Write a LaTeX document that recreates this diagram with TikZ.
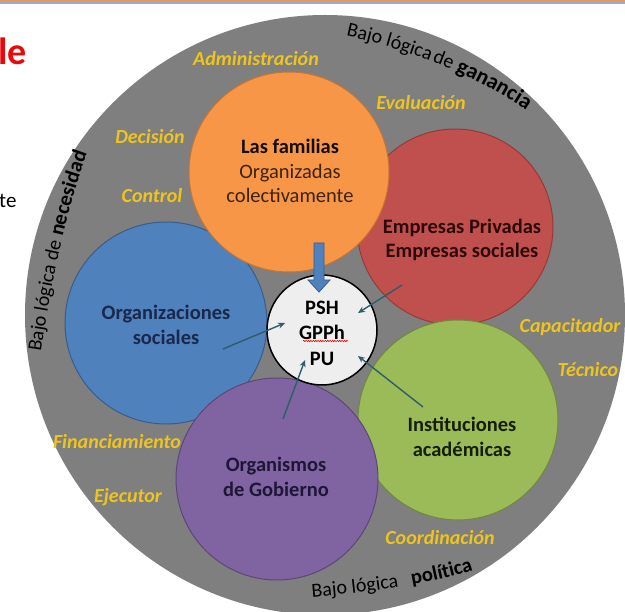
\documentclass[tikz,border=0pt]{standalone}
\usepackage{fontspec}
\setmainfont{Carlito}
\usetikzlibrary{calc,decorations.text,decorations.pathmorphing,arrows.meta}
\definecolor{ringgrey}{RGB}{127,127,127}
\definecolor{orA}{RGB}{247,150,70}
\definecolor{orB}{RGB}{196,118,52}
\definecolor{rdA}{RGB}{192,80,77}
\definecolor{rdB}{RGB}{150,58,56}
\definecolor{blA}{RGB}{79,129,189}
\definecolor{blB}{RGB}{56,93,138}
\definecolor{puA}{RGB}{128,100,162}
\definecolor{puB}{RGB}{92,71,118}
\definecolor{grA}{RGB}{155,187,89}
\definecolor{grB}{RGB}{113,137,63}
\definecolor{yel}{RGB}{238,196,30}
\definecolor{arrteal}{RGB}{46,94,106}
\definecolor{centfill}{RGB}{238,238,238}
\definecolor{redtitle}{RGB}{230,10,10}
\definecolor{topor}{RGB}{240,150,80}
\definecolor{topbl}{RGB}{140,175,220}
\definecolor{txfam}{RGB}{20,14,10}
\definecolor{txfamb}{RGB}{60,35,18}
\definecolor{txemp}{RGB}{45,10,10}
\definecolor{txorg}{RGB}{25,40,75}
\definecolor{txgob}{RGB}{30,22,55}
\definecolor{txins}{RGB}{22,30,10}
\begin{document}
\begin{tikzpicture}[x=1pt,y=-1pt,
  disc/.style={circle,inner sep=0pt,minimum size=200pt,line width=1pt},
  ctext/.style={align=center,inner sep=0pt,font=\fontsize{20.5}{24.5}\selectfont\bfseries},
  ylab/.style={inner sep=0pt,text=yel,font=\fontsize{20}{22}\selectfont\bfseries\itshape},
  thinarrow/.style={draw=arrteal,line width=1.4pt,-{Stealth[length=7pt,width=6pt]}},
  curvetext/.style 2 args={decorate,decoration={text along path,text align={align=left,left indent=#1},text={#2}}}
]
\useasboundingbox (0,0) rectangle (625,612);
\clip (0,0) rectangle (625,612);
\fill[white] (0,0) rectangle (625,612);
% top rules
\fill[topor] (0,0) rectangle (625,2.4);
\fill[topbl] (0,2.4) rectangle (625,4);
% clipped slide texts
\node[anchor=base west,inner sep=0pt,text=redtitle,font=\fontsize{38}{40}\selectfont\bfseries] (le) at (-2,65) {le};
\node[anchor=base west,inner sep=0pt,font=\fontsize{21}{24}\selectfont] (te) at (-1,208) {te};
% grey ring
\node[circle,inner sep=0pt,minimum size=600pt,fill=ringgrey] (ring) at (325,315) {};
% coloured discs
\node[disc,fill=rdA,draw=rdB,minimum size=196pt] (emp) at (455,227) {};
\node[disc,fill=grA,draw=grB] (ins) at (458,420) {};
\node[disc,fill=blA,draw=blB,minimum size=202pt] (org) at (166,323) {};
\node[disc,fill=puA,draw=puB,minimum size=202pt] (gob) at (277,479) {};
\node[disc,fill=orA,draw=orB] (fam) at (289,172) {};
% centre
\node[circle,inner sep=0pt,minimum size=110pt,fill=centfill,draw=black,line width=1.5pt] (cen) at (322,330) {};
% disc texts
\node[ctext] (famtx) at (290,171) {\textcolor{txfam}{Las familias}\\{\mdseries\color{txfamb}Organizadas}\\{\mdseries\color{txfamb}colectivamente}};
\node[ctext,text=txemp] (emptx) at (462,240) {Empresas Privadas\\Empresas sociales};
\node[ctext,text=txorg] (orgtx) at (166,325) {Organizaciones\\sociales};
\node[ctext,text=txgob] (gobtx) at (276,477) {Organismos\\de Gobierno};
\node[ctext,text=txins] (instx) at (462,437) {Instituciones\\académicas};
\node[ctext,text=black,font=\fontsize{20.5}{25.5}\selectfont\bfseries] (centx) at (322,333) {PSH\\GPPh\\PU};
\draw[red!85!black,line width=0.6pt,decorate,decoration={snake,amplitude=0.6pt,segment length=2.4pt}] (303,341) -- (348,341);
% yellow role labels
\node[ylab] (l1) at (256,59) {Administración};
\node[ylab] (l2) at (421,103) {Evaluación};
\node[ylab] (l3) at (150,137) {Decisión};
\node[ylab] (l4) at (152,196) {Control};
\node[ylab] (l5) at (570,327) {Capacitador};
\node[ylab] (l6) at (588,370) {Técnico};
\node[ylab] (l7) at (117,442) {Financiamiento};
\node[ylab] (l8) at (128,497) {Ejecutor};
\node[ylab] (l9) at (440,538) {Coordinación};
% curved texts: top
\path[curvetext={0pt}{|\fontsize{20}{22}\selectfont|Bajo lógica}]
  (346,36) .. controls (420,52) and (485,80) .. (538,118) -- (580,150);
\path[curvetext={90pt}{|\fontsize{20}{22}\selectfont|de}]
  (346,36) .. controls (420,52) and (485,80) .. (538,118) -- (580,150);
\path[curvetext={115pt}{|\fontsize{22}{24}\selectfont\bfseries|ganancia}]
  (346,36) .. controls (420,52) and (485,80) .. (538,118) -- (580,150);
% left
\path[curvetext={0pt}{|\fontsize{20}{22}\selectfont|Bajo lógica de |\fontsize{21}{23}\selectfont\bfseries|necesidad}]
  (41,352) .. controls (50,290) and (65,210) .. (92,140) -- (110,100);
% bottom
\path[curvetext={0pt}{|\fontsize{20}{22}\selectfont|Bajo lógica}]
  (312,597) .. controls (370,592) and (430,585) .. (480,568) -- (510,556);
\path[curvetext={101pt}{|\fontsize{20.5}{22}\selectfont\bfseries|política}]
  (312,597) .. controls (370,592) and (430,585) .. (480,568) -- (510,556);
% big blue arrow from families to centre
\coordinate (orTip) at (319,292);
\draw[fill=blA,draw=blB,line width=0.8pt] ($(orTip)+(-5,-49)$) -- ($(orTip)+(5,-49)$) -- ($(orTip)+(5,-12)$) -- ($(orTip)+(11,-12)$) -- (orTip) -- ($(orTip)+(-11,-12)$) -- ($(orTip)+(-5,-12)$) -- cycle;
% thin arrows
\coordinate (empTail) at (402,285); \coordinate (empTip) at (358,313);
\coordinate (orgTail) at (223,349); \coordinate (orgTip) at (285,323);
\coordinate (gobTail) at (283,419); \coordinate (gobTip) at (305,360);
\coordinate (insTail) at (423,407); \coordinate (insTip) at (358,356);
\draw[thinarrow] (empTail) -- (empTip);
\draw[thinarrow] (orgTail) -- (orgTip);
\draw[thinarrow] (gobTail) -- (gobTip);
\draw[thinarrow] (insTail) -- (insTip);
\end{tikzpicture}
\end{document}
